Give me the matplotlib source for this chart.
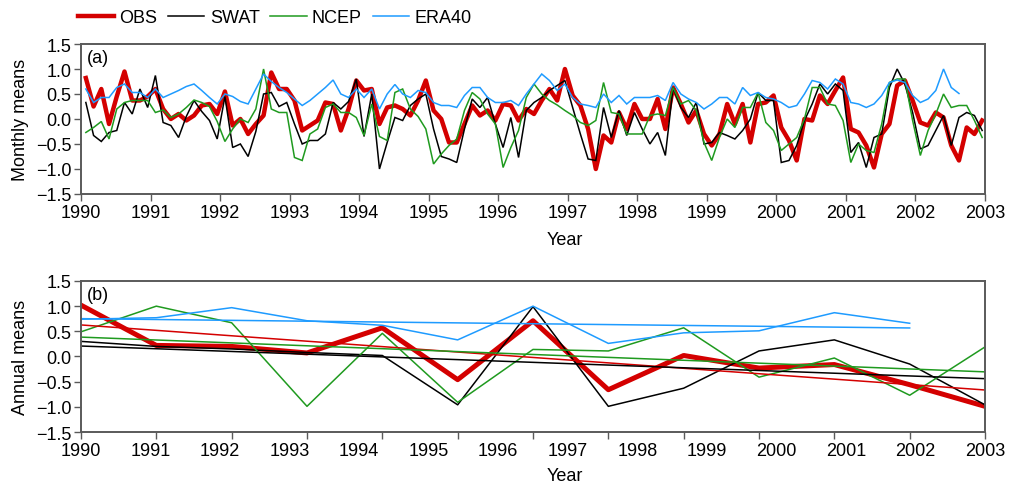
import numpy as np
import matplotlib
matplotlib.use('Agg')
import matplotlib.pyplot as plt
from matplotlib.lines import Line2D
from matplotlib.ticker import FuncFormatter

plt.rcParams['font.family'] = ['Liberation Sans', 'DejaVu Sans']

# ---------------- data: monthly-scale panel (a) ----------------
obs_m = [0.82, 0.25, 0.6, -0.1, 0.45, 0.95, 0.37, 0.37, 0.45, 0.6,
         0.2, 0.0, 0.1, -0.03, 0.07, 0.27, 0.3, 0.1, 0.55, -0.13,
         0.0, -0.3, -0.1, 0.07, 0.93, 0.6, 0.6, 0.37, -0.23, -0.13,
         -0.03, 0.33, 0.3, -0.23, 0.2, 0.77, 0.57, 0.6, -0.1, 0.23,
         0.27, 0.2, 0.07, 0.37, 0.77, 0.17, 0.0, -0.47, -0.47, -0.1,
         0.27, 0.07, 0.17, -0.03, 0.3, 0.27, -0.03, 0.2, 0.1, 0.37,
         0.6, 0.37, 1.0, 0.47, 0.27, -0.2, -1.0, -0.33, -0.47, 0.13,
         -0.2, 0.3, 0.0, 0.0, 0.4, -0.2, 0.63, 0.3, -0.07, 0.17,
         -0.3, -0.53, -0.3, 0.3, -0.1, 0.3, -0.47, 0.3, 0.33, 0.47,
         -0.17, -0.43, -0.83, 0.0, -0.03, 0.47, 0.3, 0.57, 0.83, -0.2,
         -0.27, -0.53, -0.97, -0.3, -0.1, 0.67, 0.77, 0.37, -0.07, -0.13,
         0.13, 0.03, -0.53, -0.83, -0.17, -0.3, -0.03]
swat_m = [0.33, -0.33, -0.45, -0.27, -0.23, 0.33, 0.1, 0.6, 0.23, 0.87,
          -0.07, -0.13, -0.37, 0.05, 0.37, 0.15, -0.03, -0.4, 0.45, -0.57,
          -0.5, -0.75, -0.25, 0.5, 0.53, 0.25, 0.33, -0.1, -0.5, -0.43,
          -0.43, -0.3, 0.33, 0.2, 0.35, 0.8, -0.35, 0.5, -1.0, -0.47,
          0.03, -0.03, 0.27, 0.4, 0.5, -0.2, -0.75, -0.8, -0.87, -0.2,
          0.4, 0.23, 0.43, -0.1, -0.57, 0.03, -0.77, 0.17, 0.33, 0.43,
          0.57, 0.67, 0.77, 0.23, -0.3, -0.8, -0.83, 0.23, -0.37, 0.17,
          -0.33, 0.13, -0.2, -0.5, -0.27, -0.73, 0.63, 0.23, 0.03, 0.33,
          -0.5, -0.47, -0.27, -0.33, -0.4, -0.23, 0.0, 0.53, 0.37, 0.37,
          -0.87, -0.83, -0.53, -0.03, 0.3, 0.7, 0.5, 0.7, 0.57, -0.67,
          -0.47, -0.97, -0.37, -0.3, 0.63, 1.0, 0.7, 0.13, -0.6, -0.53,
          -0.23, 0.07, -0.53, 0.03, 0.13, 0.07, -0.23]
ncep_m = [-0.27, -0.17, -0.05, -0.4, 0.2, 0.33, 0.37, 0.37, 0.37, 0.13,
          0.18, 0.03, 0.1, 0.23, 0.38, 0.33, 0.25, -0.05, -0.45, -0.2,
          0.0, -0.07, 0.2, 1.0, 0.2, 0.13, 0.13, -0.77, -0.83, -0.3,
          -0.2, 0.23, 0.3, 0.13, 0.13, 0.03, -0.33, 0.3, -0.35, -0.43,
          0.53, 0.6, 0.2, 0.05, -0.2, -0.9, -0.7, -0.53, -0.4, 0.17,
          0.53, 0.4, 0.1, -0.1, -0.97, -0.57, -0.23, 0.43, 0.7, 0.5,
          0.37, 0.28, 0.17, 0.07, -0.07, -0.13, -0.03, 0.73, 0.13, 0.1,
          -0.3, -0.3, -0.3, 0.07, 0.1, 0.07, 0.63, 0.3, 0.37, 0.17,
          -0.47, -0.83, -0.37, 0.0, -0.17, 0.23, 0.23, 0.53, -0.07, -0.23,
          -0.63, -0.5, -0.37, 0.0, 0.63, 0.63, 0.3, 0.27, -0.03, -0.87,
          -0.5, -0.63, -0.67, -0.1, 0.73, 0.8, 0.8, -0.03, -0.73, -0.23,
          0.1, 0.5, 0.23, 0.27, 0.27, -0.03, -0.37]
era_m = [0.6, 0.33, 0.43, 0.43, 0.63, 0.7, 0.53, 0.53, 0.43, 0.6,
         0.43, 0.5, 0.57, 0.65, 0.7, 0.57, 0.43, 0.3, 0.5, 0.45,
         0.35, 0.3, 0.6, 0.9, 0.75, 0.63, 0.53, 0.4, 0.27, 0.37,
         0.5, 0.63, 0.78, 0.5, 0.43, 0.6, 0.43, 0.6, 0.2, 0.5,
         0.69, 0.5, 0.43, 0.57, 0.53, 0.33, 0.27, 0.27, 0.23, 0.47,
         0.63, 0.63, 0.43, 0.33, 0.33, 0.37, 0.27, 0.5, 0.7, 0.9,
         0.77, 0.57, 0.7, 0.43, 0.3, 0.27, 0.23, 0.5, 0.33, 0.47,
         0.3, 0.43, 0.43, 0.43, 0.47, 0.37, 0.73, 0.5, 0.4, 0.33,
         0.2, 0.3, 0.43, 0.43, 0.3, 0.63, 0.47, 0.53, 0.43, 0.4,
         0.33, 0.23, 0.27, 0.5, 0.77, 0.73, 0.6, 0.8, 0.7, 0.33,
         0.3, 0.23, 0.3, 0.47, 0.73, 0.78, 0.73, 0.47, 0.33, 0.4,
         0.57, 1.0, 0.63, 0.51]

# ---------------- data: annual panel (b) ----------------
year_labels = [str(y) for y in range(1990, 2004)]
obs_a = [1.02, 0.22, 0.2, 0.07, 0.57, -0.46, 0.71, -0.66, 0.02, -0.23, -0.16, -0.56, -0.99]
swat_a = [0.3, 0.2, 0.15, 0.08, 0.02, -0.96, 0.99, -0.99, -0.63, 0.11, 0.33, -0.15, -0.96]
ncep_a = [0.49, 1.0, 0.67, -0.99, 0.46, -0.91, 0.14, 0.11, 0.57, -0.41, -0.03, -0.77, 0.19]
era_a = [0.74, 0.77, 0.97, 0.71, 0.62, 0.33, 1.0, 0.26, 0.47, 0.51, 0.87, 0.66]

names = ['OBS', 'SWAT', 'NCEP', 'ERA40']
colors = ['#d40000', '#000000', '#1f9a1f', '#1e9bff']
widths = [3.2, 1.1, 1.1, 1.1]

FS = 13
SPINE = '#5a5a5a'

fig = plt.figure(figsize=(10.11, 4.85), dpi=100)
ax1 = fig.add_axes([0.0801, 0.598, 0.8942, 0.3092])
ax2 = fig.add_axes([0.0801, 0.1072, 0.8942, 0.3114])

minus_fmt = FuncFormatter(lambda v, p: ('%.1f' % v).replace('-', '\u2212'))

def style(ax):
    for s in ax.spines.values():
        s.set_color(SPINE)
        s.set_linewidth(1.4)
    ax.tick_params(axis='both', which='both', direction='out', labelsize=FS,
                   color=SPINE, width=1.0, length=5, pad=2)
    ax.set_ylim(-1.5, 1.5)
    ax.set_yticks(np.arange(-1.5, 1.51, 0.5))
    ax.yaxis.set_major_formatter(minus_fmt)

# ---- panel (a) ----
monthly = [obs_m, swat_m, ncep_m, era_m]
for vals, c, w in zip(monthly, colors, widths):
    t = 1990.07 + np.arange(len(vals)) / 9.0
    ax1.plot(t, vals, color=c, lw=w, solid_joinstyle='miter' if w < 2 else 'round')
style(ax1)
ax1.set_xlim(1990, 2003)
ax1.set_xticks(range(1990, 2004))
ax1.set_xticklabels(year_labels)
ax1.set_ylabel('Monthly means', fontsize=FS, labelpad=5)
ax1.set_xlabel('Year', fontsize=FS)
ax1.xaxis.set_label_coords(0.535, -0.25)
ax1.text(0.006, 0.97, '(a)', transform=ax1.transAxes, fontsize=FS, va='top', ha='left')

# ---- panel (b) ----
annual = [obs_a, swat_a, ncep_a, era_a]
for vals, c, w in zip(annual, colors, widths):
    x = np.arange(len(vals))
    ax2.plot(x, vals, color=c, lw=w + (0.4 if w > 2 else 0))
for vals, c in zip(annual, colors):
    x = np.arange(len(vals))
    p = np.polyfit(x, vals, 1)
    ax2.plot(x[[0, -1]], np.polyval(p, x[[0, -1]]), color=c, lw=1.1)
style(ax2)
n_a = len(obs_a)
ax2.set_xlim(0, n_a - 1)
ax2.xaxis.remove_overlapping_locs = False
ax2.set_xticks(np.arange(n_a))
ax2.set_xticklabels([])
lab_pos = np.arange(len(year_labels)) * (n_a - 1) / (len(year_labels) - 1)
ax2.set_xticks(lab_pos, minor=True)
ax2.set_xticklabels(year_labels, minor=True)
ax2.tick_params(axis='x', which='minor', length=0, pad=7)
ax2.set_ylabel('Annual means', fontsize=FS, labelpad=5)
ax2.set_xlabel('Year', fontsize=FS)
ax2.xaxis.set_label_coords(0.535, -0.23)
ax2.text(0.006, 0.97, '(b)', transform=ax2.transAxes, fontsize=FS, va='top', ha='left')

# ---- legend ----
handles = [Line2D([], [], color=c, lw=w) for c, w in zip(colors, widths)]
fig.legend(handles, names, loc='center left', bbox_to_anchor=(0.077, 0.962),
           ncol=4, frameon=False, fontsize=FS, handlelength=2.0,
           handletextpad=0.3, columnspacing=0.6, borderpad=0, borderaxespad=0)

fig.savefig('out.png', dpi=100)
